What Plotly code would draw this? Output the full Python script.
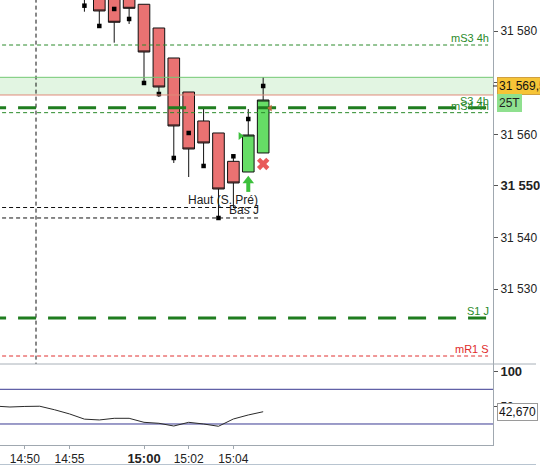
import plotly.graph_objects as go

# ---------------- data ----------------
bars = list(range(13))
opens = [31592.0, 31589.0, 31590.0, 31588.0, 31585.24, 31580.64, 31574.82,
         31568.22, 31562.60, 31560.27, 31554.77, 31552.70, 31556.39]
closes = [31587.5, 31583.94, 31581.75, 31584.46, 31575.98, 31569.19, 31561.63,
          31557.16, 31558.33, 31549.40, 31550.57, 31559.88, 31566.67]
highs = [31594.0, 31591.0, 31592.0, 31590.0, 31585.24, 31580.64, 31574.82,
         31568.22, 31565.12, 31560.27, 31555.75, 31564.92, 31571.13]
lows = [31583.80, 31580.89, 31577.79, 31581.42, 31569.97, 31567.25, 31554.45,
        31551.73, 31553.87, 31543.78, 31545.72, 31552.70, 31556.39]
last_marks = [31584.97, 31581.03, 31584.33, 31582.39, 31569.97, 31567.83, 31555.42,
              31560.27, 31553.87, 31543.78, 31555.75, 31562.98, 31569.39]

level_names = ["mS3 4h", "S3 4h", "mS4 4h", "Haut (S. Pré)", "Bas J", "S1 J", "mR1 S"]
level_prices = [31577.34, 31565.18, 31564.21, 31545.81, 31543.78, 31524.37, 31517.0]
zone_low, zone_high = 31567.64, 31571.07

ind_bars = list(range(-6, 13))
ind_vals = [50.8, 49.5, 50.3, 50.6, 45.5, 39.5, 32.0, 30.8, 33.2, 33.2, 27.4,
            26.0, 22.1, 27.4, 25.0, 21.7, 32.2, 38.0, 42.67]
ind_levels = [75, 25]

time_bars = [-4, -1, 4, 7, 10]
time_labels = ["14:50", "14:55", "15:00", "15:02", "15:04"]
price_ticks = [31530, 31540, 31550, 31560, 31570, 31580]
price_labels = ["31 530", "31 540", "31 550", "31 560", "31 570", "31 580"]
ind_ticks = [50, 100]
ind_labels = ["50", "100"]

session_bar = -3.25
buy_signal = (11, 31550.47)
exit_signal = (12, 31554.26)
tri_green = (10.47, 31559.69)
tri_brown = (12.47, 31565.10)
last_price_label = "31 569,5"
last_price = 31569.39
period_label = "25T"
ind_last_label = "42,670"
ind_last = 42.67

# ---------------- geometry / style ----------------
W, H = 540, 466
axis_px = 496.7
xr = [-5.667, 27.43]
yr_main = [31515.45, 31586.07]
def px2i(px):
    return xr[0] + px / axis_px * (xr[1] - xr[0])

main_bot, ind_bot = 364, 445
ppu = main_bot / (yr_main[1] - yr_main[0])   # pixels per price unit
ydom_main = [1 - main_bot / H, 1]
ydom_ind = [1 - ind_bot / H, 1 - main_bot / H]
xdom = [0, axis_px / W]

FONT = "Arial, Liberation Sans, sans-serif"
GREEN_D = "#1f7d1f"
GREEN_T = "#2a8a2a"
RED_T = "#e02a2a"
level_style = {
    "mS3 4h": dict(color=GREEN_T, width=1, dash="4px,3px", end=491.7, lab_end=494, tc=GREEN_T, fs=11),
    "S3 4h": dict(color=GREEN_D, width=3, dash="18px,12px", end=491.7, lab_end=494, tc=GREEN_T, fs=11),
    "mS4 4h": dict(color=GREEN_T, width=1, dash="4px,3px", end=491.7, lab_end=494, tc=GREEN_T, fs=11),
    "Haut (S. Pré)": dict(color="#111111", width=1, dash="4px,3px", end=260, lab_end=261, tc="#222222", fs=12),
    "Bas J": dict(color="#111111", width=1, dash="4px,3px", end=260, lab_end=262, tc="#222222", fs=12),
    "S1 J": dict(color=GREEN_D, width=3, dash="18px,12px", end=491.7, lab_end=494, tc=GREEN_T, fs=11),
    "mR1 S": dict(color="#e03030", width=1, dash="4px,3px", end=491.7, lab_end=494, tc=RED_T, fs=11),
}

fig = go.Figure()

# zone
fig.add_shape(type="rect", xref="paper", yref="y", x0=0, x1=xdom[1],
              y0=zone_low, y1=zone_high, fillcolor="#e2f5e2", line_width=0, layer="below")
fig.add_shape(type="line", xref="paper", yref="y", x0=0, x1=xdom[1],
              y0=zone_high, y1=zone_high, line=dict(color="#74c874", width=1))
fig.add_shape(type="line", xref="paper", yref="y", x0=0, x1=xdom[1],
              y0=zone_low, y1=zone_low, line=dict(color="#e08a7a", width=1))

# session divider
fig.add_trace(go.Scatter(x=[session_bar, session_bar], y=[31500, 31600], mode="lines",
                         line=dict(color="#111111", width=1, dash="4px,3px"),
                         xaxis="x", yaxis="y", hoverinfo="skip", showlegend=False))

# level lines
for name, price in zip(level_names, level_prices):
    st = level_style[name]
    fig.add_trace(go.Scatter(x=[xr[0] - 0.8, px2i(st["end"])], y=[price, price], mode="lines",
                             line=dict(color=st["color"], width=st["width"], dash=st["dash"]),
                             xaxis="x", yaxis="y", hoverinfo="skip", showlegend=False))
    fig.add_annotation(x=st["lab_end"] / W, xref="paper", y=price, yref="y",
                       xanchor="right", yanchor="bottom", text=name, showarrow=False,
                       font=dict(family=FONT, size=st["fs"], color=st["tc"]), borderpad=0, yshift=0)

# candles
fig.add_trace(go.Candlestick(
    x=bars, open=opens, high=highs, low=lows, close=closes,
    increasing=dict(fillcolor="#66dd66", line=dict(color="#111111", width=1)),
    decreasing=dict(fillcolor="#ea7272", line=dict(color="#111111", width=1)),
    whiskerwidth=0, xaxis="x", yaxis="y", showlegend=False, hoverinfo="skip"))

# last-trade squares
fig.add_trace(go.Scatter(x=bars, y=last_marks, mode="markers",
                         marker=dict(symbol="square", size=4.5, color="#000000"),
                         xaxis="x", yaxis="y", hoverinfo="skip", showlegend=False))

# signals: buy arrow (head + stem)
fig.add_trace(go.Scatter(x=[buy_signal[0]], y=[buy_signal[1] + 2.8 / ppu], mode="markers",
                         marker=dict(symbol="triangle-up", size=10, color="#3cc03c", line=dict(width=0)),
                         xaxis="x", yaxis="y", hoverinfo="skip", showlegend=False))
fig.add_trace(go.Scatter(x=[buy_signal[0]], y=[buy_signal[1] - 3.5 / ppu], mode="markers",
                         marker=dict(symbol="line-ns", size=7, color="#3cc03c",
                                     line=dict(width=4, color="#3cc03c")),
                         xaxis="x", yaxis="y", hoverinfo="skip", showlegend=False))
fig.add_trace(go.Scatter(x=[exit_signal[0]], y=[exit_signal[1]], mode="markers",
                         marker=dict(symbol="x", size=11, color="#e85a5a", line=dict(width=0)),
                         xaxis="x", yaxis="y", hoverinfo="skip", showlegend=False))
fig.add_trace(go.Scatter(x=[tri_green[0]], y=[tri_green[1]], mode="markers",
                         marker=dict(symbol="triangle-right", size=7, color="#3cc03c"),
                         xaxis="x", yaxis="y", hoverinfo="skip", showlegend=False))
fig.add_trace(go.Scatter(x=[tri_brown[0]], y=[tri_brown[1]], mode="markers",
                         marker=dict(symbol="triangle-left", size=6, color="#b86a3a"),
                         xaxis="x", yaxis="y", hoverinfo="skip", showlegend=False))

# indicator
for lv in ind_levels:
    fig.add_trace(go.Scatter(x=[xr[0] - 1, xr[1] + 1], y=[lv, lv], mode="lines",
                             line=dict(color="#3a3a92", width=1),
                             xaxis="x2", yaxis="y2", hoverinfo="skip", showlegend=False))
fig.add_trace(go.Scatter(x=ind_bars, y=ind_vals, mode="lines",
                         line=dict(color="#2a2a2a", width=1),
                         xaxis="x2", yaxis="y2", hoverinfo="skip", showlegend=False))

# right-side labels
fig.add_annotation(x=501 / W, xref="paper", y=last_price, yref="y", xanchor="left", yanchor="middle",
                   text=last_price_label, showarrow=False, bgcolor="#f6c437", bordercolor="#d0a040",
                   borderwidth=1, borderpad=1, font=dict(family=FONT, size=12, color="#111111"))
fig.add_annotation(x=501 / W, xref="paper", y=1 - 103 / H, yref="paper", xanchor="left", yanchor="middle",
                   text=period_label, showarrow=False, bgcolor="#8fe08f", bordercolor="#8fe08f",
                   borderwidth=1, borderpad=1, font=dict(family=FONT, size=12, color="#222222"))
fig.add_annotation(x=501 / W, xref="paper", y=ind_last, yref="y2", xanchor="left", yanchor="middle",
                   text=ind_last_label, showarrow=False, bgcolor="#ffffff", bordercolor="#9a9a9a",
                   borderwidth=1, borderpad=1, font=dict(family=FONT, size=12, color="#111111"))
fig.add_shape(type="line", xref="paper", yref="y", x0=axis_px / W, x1=501 / W,
              y0=last_price, y1=last_price, line=dict(color="#222222", width=1))

# frame lines
fig.add_shape(type="line", xref="paper", yref="paper", x0=0, x1=1, y0=ydom_ind[1], y1=ydom_ind[1],
              line=dict(color="#a8b0b8", width=1))
fig.add_shape(type="line", xref="paper", yref="paper", x0=0, x1=1, y0=1 - 464.5 / H, y1=1 - 464.5 / H,
              line=dict(color="#b8c4d0", width=1))

def bold(lab):
    return "<span style='font-size:13px'><b>%s</b></span>" % lab

tick_txt = [bold(l) if l == "15:00" else l for l in time_labels]
ptxt = [bold(l) if v == 31550 else l for v, l in zip(price_ticks, price_labels)]
itxt = [bold(l) if l == "100" else l for l in ind_labels]

fig.update_layout(
    width=W, height=H, margin=dict(l=0, r=0, t=0, b=0),
    paper_bgcolor="white", plot_bgcolor="white", showlegend=False,
    boxgap=0.22, boxgroupgap=0,
    font=dict(family=FONT, size=12, color="#222222"),
    xaxis=dict(domain=xdom, range=xr, anchor="y", showticklabels=False, showgrid=False,
               zeroline=False, rangeslider=dict(visible=False), ticks=""),
    yaxis=dict(domain=ydom_main, range=yr_main, side="right", anchor="x",
               tickvals=price_ticks, ticktext=ptxt, ticks="outside", ticklen=4,
               tickcolor="#555555", showline=True, linecolor="#a0a8b0", linewidth=1,
               showgrid=False, zeroline=False, tickfont=dict(size=12, color="#222222")),
    xaxis2=dict(domain=xdom, range=xr, anchor="y2", matches="x", tickvals=time_bars,
                ticktext=tick_txt, ticks="outside", ticklen=3, tickcolor="#a0a8b0",
                showline=True, linecolor="#a0a8b0", linewidth=1, showgrid=False,
                zeroline=False, tickfont=dict(size=12, color="#222222")),
    yaxis2=dict(domain=ydom_ind, range=[-5.3, 111.5], side="right", anchor="x2",
                tickvals=ind_ticks, ticktext=itxt, ticks="outside", ticklen=4,
                tickcolor="#555555", showline=True, linecolor="#a0a8b0", linewidth=1,
                showgrid=False, zeroline=False, tickfont=dict(size=12, color="#222222")),
)

fig.write_html("out.html", config={"displayModeBar": False},
               post_script="document.body.style.margin='0';document.body.style.overflow='hidden';")
